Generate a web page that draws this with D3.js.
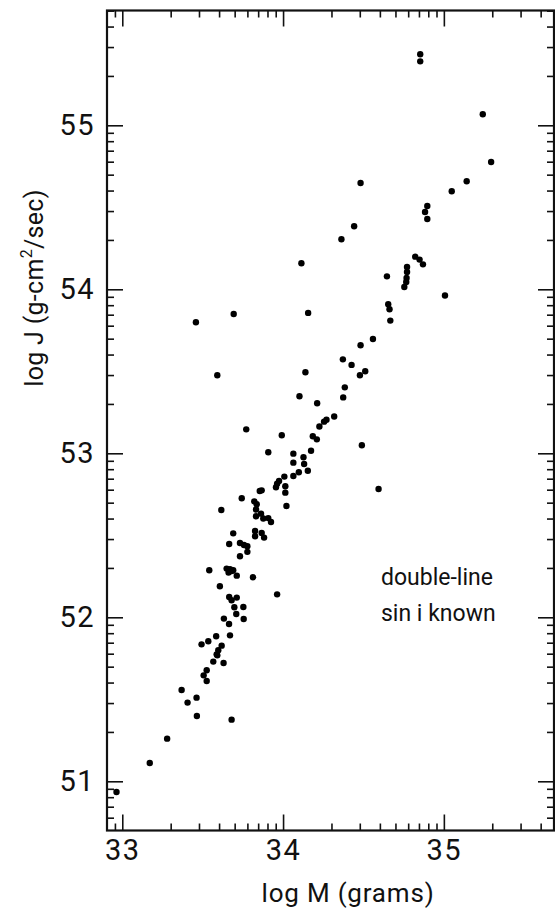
<!DOCTYPE html>
<html>
<head>
<meta charset="utf-8">
<script src="https://cdn.jsdelivr.net/npm/d3@7.9.0/dist/d3.min.js"></script>
<style>
  html, body { margin: 0; padding: 0; background: #fff; }
  svg { display: block; }
  text { font-family: Roboto, "Open Sans", sans-serif; fill: #111; }
</style>
</head>
<body>
<svg id="chart" width="555" height="909"></svg>
<script>
// log M (grams)
const logM = [
  34.853, 34.853, 35.242, 35.294, 35.142, 35.049, 34.482, 34.897, 34.883, 34.897,
  34.442, 34.363, 34.114, 34.822, 34.849, 34.870, 34.771, 34.771, 34.768, 34.766,
  34.754, 34.646, 35.007, 34.654, 34.662, 34.667, 33.693, 34.156, 34.559, 34.482,
  34.372, 34.426, 34.511, 34.478, 33.591, 34.139, 34.384, 34.374, 34.102, 34.212,
  34.318, 34.270, 34.255, 34.226, 34.490, 33.771, 33.992, 34.185, 34.210, 34.174,
  33.908, 34.064, 34.127, 34.064, 34.131, 34.154, 34.098, 34.064, 34.008, 33.975,
  33.963, 33.956, 34.014, 34.014, 34.021, 34.594, 33.867, 33.855, 33.743, 33.821,
  33.836, 33.616, 33.832, 33.832, 33.863, 33.877, 33.908, 33.925, 33.690, 33.826,
  33.867, 33.826, 33.882, 33.665, 33.732, 33.757, 33.778, 33.778, 33.732, 33.541,
  33.649, 33.670, 33.680, 33.690, 33.661, 33.712, 33.813, 33.607, 33.963, 33.665,
  33.712, 33.680, 33.697, 33.753, 33.709, 33.755, 33.632, 33.664, 33.670, 33.584,
  33.535, 33.493, 33.618, 33.597, 33.587, 33.591, 33.630, 33.566, 33.525, 33.506,
  33.525, 33.369, 33.462, 33.406, 33.464, 33.680, 33.279, 33.171, 32.964, 33.458
];
// log J (g-cm^2/sec), same order
const logJ = [
  55.433, 55.390, 55.067, 54.776, 54.659, 54.598, 54.648, 54.508, 54.471, 54.429,
  54.384, 54.305, 54.159, 54.199, 54.181, 54.152, 54.136, 54.106, 54.069, 54.045,
  54.014, 54.079, 53.962, 53.909, 53.878, 53.809, 53.849, 53.856, 53.697, 53.659,
  53.573, 53.539, 53.500, 53.476, 53.476, 53.494, 53.402, 53.341, 53.348, 53.305,
  53.224, 53.205, 53.193, 53.163, 53.049, 53.146, 53.110, 53.104, 53.085, 53.016,
  53.006, 52.998, 52.976, 52.943, 52.935, 52.894, 52.884, 52.862, 52.858, 52.831,
  52.815, 52.793, 52.799, 52.760, 52.679, 52.782, 52.774, 52.770, 52.726, 52.707,
  52.689, 52.654, 52.657, 52.616, 52.632, 52.602, 52.605, 52.581, 52.512, 52.526,
  52.514, 52.494, 52.486, 52.447, 52.453, 52.441, 52.433, 52.399, 52.372, 52.287,
  52.297, 52.293, 52.282, 52.287, 52.273, 52.254, 52.244, 52.189, 52.140, 52.124,
  52.120, 52.104, 52.061, 52.063, 52.020, 51.990, 51.992, 51.959, 51.890, 51.884,
  51.854, 51.835, 51.827, 51.799, 51.774, 51.768, 51.721, 51.730, 51.677, 51.646,
  51.612, 51.557, 51.510, 51.480, 51.398, 51.376, 51.260, 51.112, 50.935, 53.799
];

const xMajor = [33, 34, 35];
const yMajor = [51, 52, 53, 54, 55];
const xDomain = [32.905, 35.685];
const yDomain = [50.7, 55.7];
const xTitle = "log M (grams)";
const noteLines = ["double-line", "sin i known"];

const svg = d3.select("#chart");
const pl = 107, pr = 554, pt = 10.5, pb = 830.5;

const x = d3.scaleLinear().domain(xDomain).range([pl, pr]);
const y = d3.scaleLinear().domain(yDomain).range([pb, pt]);

// log-cycle minor ticks inside each unit
function minorTicks(domain) {
  const out = [];
  for (let d = Math.floor(domain[0]) - 1; d <= Math.ceil(domain[1]); d++) {
    for (let k = 2; k <= 9; k++) {
      const v = d + Math.log10(k);
      if (v > domain[0] && v < domain[1]) out.push(v);
    }
  }
  return out;
}
const xMinor = minorTicks(xDomain);
const yMinor = minorTicks(yDomain);

const majLen = 16, minLen = 7;

function addAxis(axis, tx, ty, labels) {
  const g = svg.append("g").attr("transform", `translate(${tx},${ty})`).call(axis);
  g.select(".domain").remove();
  g.selectAll(".tick line").attr("stroke", "#111").attr("stroke-width", 1.6);
  if (!labels) g.selectAll(".tick text").remove();
  return g;
}

// bottom
addAxis(d3.axisBottom(x).tickValues(xMinor).tickSize(-minLen), 0, pb, false);
const gb = addAxis(d3.axisBottom(x).tickValues(xMajor).tickSize(-majLen).tickPadding(9).tickFormat(d3.format("d")), 0, pb, true);
gb.selectAll(".tick text").attr("font-size", 29).attr("letter-spacing", 1.5);
// top
addAxis(d3.axisTop(x).tickValues(xMinor).tickSize(-minLen), 0, pt, false);
addAxis(d3.axisTop(x).tickValues(xMajor).tickSize(-majLen), 0, pt, false);
// left
addAxis(d3.axisLeft(y).tickValues(yMinor).tickSize(-minLen), pl, 0, false);
const gl = addAxis(d3.axisLeft(y).tickValues(yMajor).tickSize(-majLen).tickPadding(12).tickFormat(d3.format("d")), pl, 0, true);
gl.selectAll(".tick text").attr("font-size", 29).attr("letter-spacing", 1.5);
// right
addAxis(d3.axisRight(y).tickValues(yMinor).tickSize(-minLen), pr, 0, false);
addAxis(d3.axisRight(y).tickValues(yMajor).tickSize(-majLen), pr, 0, false);

// frame
svg.append("rect")
  .attr("x", pl).attr("y", pt)
  .attr("width", pr - pl).attr("height", pb - pt)
  .attr("fill", "none").attr("stroke", "#111").attr("stroke-width", 2.2);

// points
svg.append("g").selectAll("circle")
  .data(logM.map((m, i) => [m, logJ[i]]))
  .join("circle")
  .attr("cx", d => x(d[0]))
  .attr("cy", d => y(d[1]))
  .attr("r", 3.2)
  .attr("fill", "#000");

// axis titles
svg.append("text")
  .attr("x", 348).attr("y", 902)
  .attr("text-anchor", "middle")
  .attr("font-size", 26)
  .attr("letter-spacing", 0.8)
  .text(xTitle);

const yt = svg.append("text")
  .attr("transform", "translate(43,288) rotate(-90)")
  .attr("text-anchor", "middle")
  .attr("font-size", 25)
  .attr("letter-spacing", 0.3);
yt.append("tspan").text("log J (g-cm");
yt.append("tspan").attr("font-size", 16).attr("dy", -11).text("2");
yt.append("tspan").attr("dy", 11).text("/sec)");

// note
svg.append("g").selectAll("text")
  .data(noteLines)
  .join("text")
  .attr("x", 381)
  .attr("y", (d, i) => 585 + i * 36)
  .attr("font-size", 23)
  .text(d => d);
</script>
</body>
</html>
